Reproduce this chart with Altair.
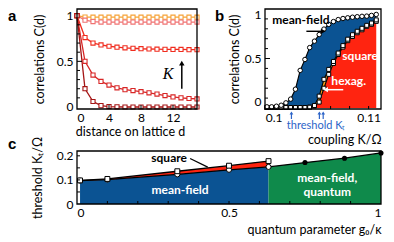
import altair as alt
import pandas as pd

FONT = "Lato"
BLUE = "#0b5393"
GREEN = "#0f8a4b"
RED = "#ff2410"
ORANGE = "#f7a21c"
TBLUE = "#2c64c8"

# ---------------- panel a data ----------------
dist = [0, 1, 2, 3, 4, 5, 6, 7, 8, 9, 10, 11, 12, 13, 14, 15]
corr_1 = [1.0, 0.985, 0.983, 0.983, 0.983, 0.983, 0.983, 0.983, 0.983, 0.983, 0.983, 0.983, 0.983, 0.983, 0.983, 0.983]
corr_2 = [1.0, 0.95, 0.935, 0.93, 0.93, 0.93, 0.93, 0.93, 0.93, 0.93, 0.93, 0.93, 0.93, 0.93, 0.93, 0.93]
corr_3 = [1.0, 0.76, 0.70, 0.68, 0.665, 0.655, 0.648, 0.643, 0.638, 0.635, 0.633, 0.631, 0.63, 0.63, 0.628, 0.628]
corr_4 = [1.0, 0.50, 0.35, 0.28, 0.24, 0.21, 0.19, 0.18, 0.168, 0.155, 0.142, 0.125, 0.11, 0.10, 0.093, 0.088]
corr_5 = [1.0, 0.20, 0.06, 0.015, 0.005, 0.002, 0.0, 0.0, 0.0, 0.0, 0.0, 0.0, 0.0, 0.0, 0.0, 0.0]
series = ["s1", "s2", "s3", "s4", "s5"]
series_colors = ["#f6a234", "#f07272", "#f02c1e", "#d82626", "#a51515"]

# ---------------- panel b data ----------------
K_b = [0.0993, 0.0998, 0.1003, 0.1008, 0.1013, 0.1018, 0.1023, 0.1028, 0.1033, 0.1038,
       0.1043, 0.1048, 0.1053, 0.1058, 0.1063, 0.1068, 0.1073, 0.1078, 0.1083, 0.1088,
       0.1093, 0.1098, 0.1103, 0.1108]
mf_b = [0.012, 0.012, 0.018, 0.028, 0.052, 0.09, 0.19, 0.38, 0.49, 0.61,
        0.675, 0.742, 0.797, 0.845, 0.873, 0.893, 0.904, 0.911, 0.917, 0.922,
        0.926, 0.928, 0.935, 0.945]
hx_b = [0.005, 0.005, 0.005, 0.005, 0.005, 0.005, 0.005, 0.005, 0.005, 0.008,
        0.025, 0.12, 0.29, 0.39, 0.47, 0.555, 0.63, 0.695, 0.74, 0.775,
        0.805, 0.835, 0.858, 0.89]
sq_b = [0.005, 0.005, 0.005, 0.005, 0.005, 0.005, 0.005, 0.005, 0.005, 0.008,
        0.02, 0.06, 0.20, 0.34, 0.45, 0.54, 0.615, 0.68, 0.722, 0.76,
        0.79, 0.825, 0.845, 0.875]
K_thresholds = [0.10188, 0.10482, 0.10522]

# ---------------- panel c data ----------------
g_classical = [0.01, 0.1, 0.33, 0.5, 0.63]
mf_classical = [0.097, 0.101, 0.123, 0.142, 0.154]
sq_classical = [0.098, 0.104, 0.136, 0.159, 0.178]
g_quantum = [0.75, 0.88, 1.0]
mf_quantum = [0.172, 0.19, 0.212]

# ---------------- sizes ----------------
W_A, H_A = 120, 100
W_B, H_B = 116, 100
W_C, H_C = 304, 53

ONE = pd.DataFrame({"o": [0]})


def box(w, h):
    return alt.Chart(ONE).mark_rect(filled=False, stroke="black", strokeWidth=1.3).encode(
        x=alt.value(0), x2=alt.value(w), y=alt.value(0), y2=alt.value(h))


def letter(t, x, y):
    return alt.Chart(ONE).mark_text(text=t, fontWeight="bold", fontSize=15, align="left",
                                     baseline="top", font="Liberation Sans").encode(
        x=alt.value(x), y=alt.value(y))


# ================= panel a =================
XS_A = alt.Scale(domain=[0, 15], nice=False, zero=False)
YS_A = alt.Scale(domain=[-0.022, 1.073], nice=False, zero=False)
AX_XA = alt.Axis(values=[0, 4, 8, 12], format="~g", title="distance on lattice d",
                 titleX=53, titleY=22, titleAlign="center", titleBaseline="middle")
AX_YA = alt.Axis(values=[0, 0.5, 1], format="~g", title="correlations C(d)",
                 titleX=-38, titleY=H_A / 2, titleAlign="center", titleBaseline="middle")


def xa(f):
    return alt.X(f"{f}:Q", scale=XS_A, axis=AX_XA)


def ya(f):
    return alt.Y(f"{f}:Q", scale=YS_A, axis=AX_YA)


rows = []
for name, vals in zip(series, [corr_1, corr_2, corr_3, corr_4, corr_5]):
    for d, v in zip(dist, vals):
        rows.append({"d": d, "C": v, "s": name})
df_a = pd.DataFrame(rows)
col_a = alt.Scale(domain=series, range=series_colors)

a_lines = alt.Chart(df_a).mark_line(strokeWidth=1.3).encode(
    x=xa("d"), y=ya("C"), color=alt.Color("s:N", scale=col_a, legend=None), order="d:Q")
a_pts = alt.Chart(df_a).mark_point(shape="square", filled=True, fill="white", size=17,
                                   strokeWidth=1.1, opacity=1).encode(
    x=xa("d"), y=ya("C"), stroke=alt.Stroke("s:N", scale=col_a, legend=None))

a_xticks = pd.DataFrame({"d": [4, 8, 12]})
a_yticks = pd.DataFrame({"C": [0.1, 0.2, 0.3, 0.4, 0.6, 0.7, 0.8, 0.9]})
a_ymajor = pd.DataFrame({"C": [0.5]})
a_t1 = alt.Chart(a_xticks).mark_rule(color="black").encode(
    x=xa("d"), y=alt.value(H_A), y2=alt.value(H_A - 4))
a_t2 = alt.Chart(a_yticks).mark_rule(color="black").encode(
    y=ya("C"), x=alt.value(0), x2=alt.value(3))
a_t3 = alt.Chart(a_ymajor).mark_rule(color="black").encode(
    y=ya("C"), x=alt.value(0), x2=alt.value(5))

a_ann = pd.DataFrame({"d": [11.4], "C": [0.36]})
a_arrow = pd.DataFrame({"d": [13.1], "C": [0.2], "C2": [0.47]})
a_head = pd.DataFrame({"d": [13.1], "C": [0.48]})
a_k = alt.Chart(a_ann).mark_text(text="K", font="Liberation Serif", fontStyle="italic",
                                 fontSize=16).encode(x=xa("d"), y=ya("C"))
a_ar = alt.Chart(a_arrow).mark_rule(color="black", strokeWidth=1.5).encode(
    x=xa("d"), y=ya("C"), y2="C2:Q")
a_hd = alt.Chart(a_head).mark_point(shape="triangle-up", filled=True, color="black",
                                    size=30, opacity=1).encode(x=xa("d"), y=ya("C"))

panel_a = alt.layer(a_lines, a_pts, a_t1, a_t2, a_t3, a_k, a_ar, a_hd, box(W_A, H_A),
                    letter("a", -69, 0)).properties(width=W_A, height=H_A)

# ================= panel b =================
XS_B = alt.Scale(domain=[0.0991, 0.1113], nice=False, zero=False)
YS_B = alt.Scale(domain=[-0.01, 1.0], nice=False, zero=False)
AX_XB = alt.Axis(values=[0.1, 0.11], format="~g", title="coupling K/Ω",
                 titleX=W_B, titleY=30, titleAlign="right", titleBaseline="middle")
AX_YB = alt.Axis(values=[0, 0.5, 1], format="~g", title="correlations C(d)", labelFlush=1,
                 titleX=-31, titleY=H_B / 2, titleAlign="center", titleBaseline="middle")


def xb(f):
    return alt.X(f"{f}:Q", scale=XS_B, axis=AX_XB)


def yb(f):
    return alt.Y(f"{f}:Q", scale=YS_B, axis=AX_YB)


df_b = pd.DataFrame({"K": K_b, "mf": mf_b, "hx": hx_b, "sq": sq_b})
b_red = alt.Chart(df_b).mark_area(color=RED, opacity=1).encode(
    x=xb("K"), y=yb("sq"), y2=alt.value(H_B))
b_orange = alt.Chart(df_b).mark_area(color=ORANGE, opacity=1).encode(
    x=xb("K"), y=yb("hx"), y2="sq:Q")
b_blue = alt.Chart(df_b).mark_area(color=BLUE, opacity=1).encode(
    x=xb("K"), y=yb("mf"), y2="hx:Q")
b_l1 = alt.Chart(df_b).mark_line(color="black", strokeWidth=1.1).encode(x=xb("K"), y=yb("mf"))
b_l2 = alt.Chart(df_b).mark_line(color="black", strokeWidth=1.1).encode(x=xb("K"), y=yb("hx"))
b_l3 = alt.Chart(df_b).mark_line(color="black", strokeWidth=1.1).encode(x=xb("K"), y=yb("sq"))
b_p1 = alt.Chart(df_b).mark_point(shape="circle", filled=True, fill="white", stroke="black",
                                  strokeWidth=1, size=20, opacity=1).encode(x=xb("K"), y=yb("mf"))
b_p2 = alt.Chart(df_b).mark_point(shape="square", filled=True, fill="white", stroke="black",
                                  strokeWidth=1, size=16, opacity=1).encode(x=xb("K"), y=yb("hx"))
b_p3 = alt.Chart(df_b).mark_point(shape="square", filled=True, fill="white", stroke="black",
                                  strokeWidth=1, size=16, opacity=1).encode(x=xb("K"), y=yb("sq"))

b_xt = pd.DataFrame({"K": [0.1, 0.102, 0.104, 0.106, 0.108, 0.11]})
b_yt = pd.DataFrame({"mf": [0.1, 0.2, 0.3, 0.4, 0.6, 0.7, 0.8, 0.9]})
b_ym = pd.DataFrame({"mf": [0.5]})
b_t1 = alt.Chart(b_xt).mark_rule(color="black").encode(
    x=xb("K"), y=alt.value(H_B), y2=alt.value(H_B - 3))
b_t2 = alt.Chart(b_yt).mark_rule(color="black").encode(
    y=yb("mf"), x=alt.value(0), x2=alt.value(3))
b_t3 = alt.Chart(b_ym).mark_rule(color="black").encode(
    y=yb("mf"), x=alt.value(0), x2=alt.value(5))

b_txt = pd.DataFrame({"K": [0.10287], "mf": [0.885]})
b_mf_label = alt.Chart(b_txt).mark_text(text="mean-field", fontWeight="bold", fontSize=12,
                                        color="black").encode(x=xb("K"), y=yb("mf"))
b_arr = pd.DataFrame({"K": [0.10345], "K2": [0.10515], "mf": [0.775]})
b_arr_head = pd.DataFrame({"K": [0.10522], "mf": [0.775]})
b_a1 = alt.Chart(b_arr).mark_rule(color="black", strokeWidth=1.4).encode(
    x=xb("K"), x2="K2:Q", y=yb("mf"))
b_a1h = alt.Chart(b_arr_head).mark_point(shape="triangle-right", filled=True, color="black",
                                         size=28, opacity=1).encode(x=xb("K"), y=yb("mf"))
b_sq_txt = pd.DataFrame({"K": [0.10911], "mf": [0.525]})
b_sq_label = alt.Chart(b_sq_txt).mark_text(text="square", fontWeight="bold", fontSize=12,
                                           color="white").encode(x=xb("K"), y=yb("mf"))
b_hx_txt = pd.DataFrame({"K": [0.10790], "mf": [0.27]})
b_hx_label = alt.Chart(b_hx_txt).mark_text(text="hexag.", fontWeight="bold", fontSize=12,
                                           color="white").encode(x=xb("K"), y=yb("mf"))
b_warr = pd.DataFrame({"K": [0.10733], "K2": [0.10555], "mf": [0.185]})
b_warr_head = pd.DataFrame({"K": [0.10548], "mf": [0.185]})
b_a2 = alt.Chart(b_warr).mark_rule(color="white", strokeWidth=1.5).encode(
    x=xb("K"), x2="K2:Q", y=yb("mf"))
b_a2h = alt.Chart(b_warr_head).mark_point(shape="triangle-left", filled=True, color="white",
                                          size=28, opacity=1).encode(x=xb("K"), y=yb("mf"))

df_thr = pd.DataFrame({"K": K_thresholds})
b_thr_r = alt.Chart(df_thr).mark_rule(color=TBLUE, strokeWidth=1.2).encode(
    x=xb("K"), y=alt.value(H_B + 4), y2=alt.value(H_B + 10))
b_thr_h = alt.Chart(df_thr).mark_point(shape="triangle-up", filled=True, color=TBLUE,
                                       size=14, opacity=1).encode(x=xb("K"), y=alt.value(H_B + 4))
b_thr_txt = pd.DataFrame({"K": [0.10448]})
b_thr_label = alt.Chart(b_thr_txt).mark_text(text="threshold Kₜ", fontSize=11,
                                             color=TBLUE).encode(
    x=xb("K"), y=alt.value(H_B + 17))

panel_b = alt.layer(b_red, b_orange, b_blue, b_l1, b_l2, b_l3, b_p3, b_p2, b_p1,
                    b_t1, b_t2, b_t3, b_mf_label, b_a1, b_a1h, b_sq_label, b_hx_label,
                    b_a2, b_a2h, b_thr_r, b_thr_h, b_thr_label, box(W_B, H_B),
                    letter("b", -50, 0)).properties(width=W_B, height=H_B)

# ================= panel c =================
XS_C = alt.Scale(domain=[0, 1], nice=False, zero=False)
YS_C = alt.Scale(domain=[0, 0.22], nice=False, zero=True)
AX_XC = alt.Axis(values=[0, 0.5, 1], format="~g", title="quantum parameter g₀/κ",
                 titleX=W_C, titleY=25, titleAlign="right", titleBaseline="middle")
AX_YC = alt.Axis(values=[0, 0.1, 0.2], format="~g", title="threshold Kₜ/Ω",
                 titleX=-40, titleY=H_C / 2, titleAlign="center", titleBaseline="middle")


def xc(f):
    return alt.X(f"{f}:Q", scale=XS_C, axis=AX_XC)


def yc(f):
    return alt.Y(f"{f}:Q", scale=YS_C, axis=AX_YC)


df_cl = pd.DataFrame({"g": g_classical, "mf": mf_classical, "sq": sq_classical})
df_q = pd.DataFrame({"g": g_quantum, "mf": mf_quantum})
df_green = pd.DataFrame({"g": g_classical[-1:] + g_quantum, "mf": mf_classical[-1:] + mf_quantum})
df_all = pd.DataFrame({"g": g_classical + g_quantum, "mf": mf_classical + mf_quantum})

c_blue = alt.Chart(df_cl).mark_area(color=BLUE, opacity=1).encode(x=xc("g"), y=yc("mf"))
c_green = alt.Chart(df_green).mark_area(color=GREEN, opacity=1).encode(x=xc("g"), y=yc("mf"))
c_red = alt.Chart(df_cl).mark_area(color=RED, opacity=1).encode(x=xc("g"), y=yc("sq"), y2="mf:Q")
c_l1 = alt.Chart(df_all).mark_line(color="black", strokeWidth=1.3).encode(x=xc("g"), y=yc("mf"))
c_l2 = alt.Chart(df_cl).mark_line(color="black", strokeWidth=1.3).encode(x=xc("g"), y=yc("sq"))
c_p1 = alt.Chart(df_cl).mark_point(shape="circle", filled=True, fill="white", stroke="black",
                                   strokeWidth=1, size=26, opacity=1).encode(x=xc("g"), y=yc("mf"))
c_p2 = alt.Chart(df_cl).mark_point(shape="square", filled=True, fill="white", stroke="black",
                                   strokeWidth=1, size=24, opacity=1).encode(x=xc("g"), y=yc("sq"))
c_p3 = alt.Chart(df_q).mark_point(shape="circle", filled=True, color="black",
                                  size=26, opacity=1).encode(x=xc("g"), y=yc("mf"))

c_xt = pd.DataFrame({"g": [0.1, 0.2, 0.3, 0.4, 0.5, 0.6, 0.7, 0.8, 0.9]})
c_yt = pd.DataFrame({"mf": [0.05, 0.1, 0.15, 0.2]})
c_t1 = alt.Chart(c_xt).mark_rule(color="black").encode(
    x=xc("g"), y=alt.value(H_C), y2=alt.value(H_C - 3))
c_t2 = alt.Chart(c_yt).mark_rule(color="black").encode(
    y=yc("mf"), x=alt.value(0), x2=alt.value(3))

c_sq_txt = pd.DataFrame({"g": [0.303], "mf": [0.193]})
c_sq_label = alt.Chart(c_sq_txt).mark_text(text="square", fontWeight="bold", fontSize=12,
                                           color="black").encode(x=xc("g"), y=yc("mf"))
c_ln = pd.DataFrame({"g": [0.372], "g2": [0.43], "mf": [0.189], "mf2": [0.153]})
c_line = alt.Chart(c_ln).mark_rule(color="black", strokeWidth=1.2).encode(
    x=xc("g"), x2="g2:Q", y=yc("mf"), y2="mf2:Q")
c_mf_txt = pd.DataFrame({"g": [0.339], "mf": [0.06]})
c_mf_label = alt.Chart(c_mf_txt).mark_text(text="mean-field", fontWeight="bold", fontSize=12,
                                           color="white").encode(x=xc("g"), y=yc("mf"))
c_q_txt = pd.DataFrame({"g": [0.823, 0.823], "mf": [0.108, 0.05], "t": ["mean-field,", "quantum"]})
c_q_label = alt.Chart(c_q_txt).mark_text(fontWeight="bold", fontSize=12, color="white").encode(
    x=xc("g"), y=yc("mf"), text="t:N")

panel_c = alt.layer(c_blue, c_green, c_red, c_l1, c_l2, c_p1, c_p2, c_p3, c_t1, c_t2,
                    c_sq_label, c_line, c_mf_label, c_q_label, box(W_C, H_C),
                    letter("c", -69, -14)).properties(width=W_C, height=H_C)

top = alt.hconcat(panel_a, panel_b, spacing=68, bounds="flush")
chart = alt.vconcat(top, panel_c, spacing=-10, bounds="full").properties(
    padding=0, background="white"
).configure(font=FONT).configure_view(stroke=None).configure_axis(
    domain=False, ticks=False, tickSize=0, grid=False,
    labelFont=FONT, labelFontSize=12, labelColor="black", labelPadding=3,
    titleFont=FONT, titleFontSize=12.5, titleFontWeight="normal", titleColor="black"
).configure_axisLeft(labelPadding=4)

chart.save("out.html", embed_options={"renderer": "svg", "actions": False})
